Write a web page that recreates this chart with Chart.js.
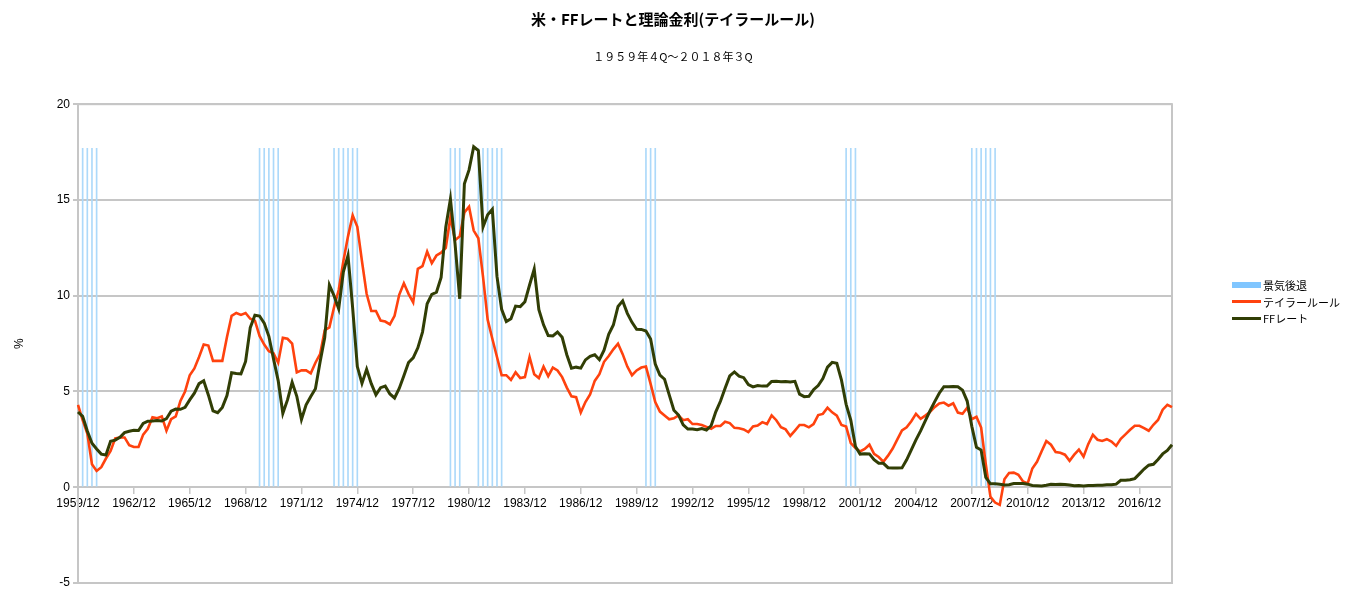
<!DOCTYPE html>
<html lang="ja">
<head>
<meta charset="utf-8"/>
<script src="https://cdn.jsdelivr.net/npm/chart.js@4.4.0/dist/chart.umd.min.js"></script>
<style>
    html, body { margin: 0; padding: 0; background: #fff; }
    #wrap { position: relative; width: 1346px; height: 601px; }
    #legend { position: absolute; left: 1232px; top: 277px; font: 11px "Noto Sans CJK JP", sans-serif; color: #000; }
    #legend div { display: flex; align-items: center; height: 16.5px; white-space: nowrap; }
    #legend span.sw { display: inline-block; width: 29px; margin-right: 2px; }
</style>
</head>
<body>
<div id="wrap">
    <canvas id="chart" width="1346" height="601"></canvas>
    <div id="legend"></div>
</div>
<script>
// quarterly categories, first point labelled 1959/12
const firstYear = 1959;
const firstMonth = 12;
const quarterCount = 236;
const quarters = [];
for (let i = 0; i < quarterCount; i++) {
    const m = firstMonth - 1 + 3 * i;
    quarters.push((firstYear + Math.floor(m / 12)) + "/" + String(m % 12 + 1).padStart(2, "0"));
}

// Taylor rule
const taylorRule = [
    4.3, 3.5, 2.8, 1.2, 0.85, 1.05, 1.5, 1.9, 2.55, 2.6, 2.6, 2.2,
    2.1, 2.1, 2.75, 3.05, 3.65, 3.6, 3.7, 2.95, 3.55, 3.7, 4.5, 5.0,
    5.85, 6.2, 6.8, 7.45, 7.4, 6.6, 6.6, 6.6, 7.85, 8.95, 9.1, 9.0,
    9.1, 8.8, 8.7, 7.9, 7.45, 7.1, 7.0, 6.5, 7.8, 7.75, 7.5, 6.0,
    6.1, 6.1, 5.95, 6.5, 6.95, 8.2, 8.35, 9.4, 10.3, 11.8, 13.1, 14.2,
    13.6, 11.8, 10.1, 9.2, 9.2, 8.7, 8.65, 8.5, 8.95, 10.05, 10.65, 10.1,
    9.65, 11.4, 11.55, 12.3, 11.7, 12.1, 12.25, 12.5, 14.1, 12.9, 13.1, 14.35,
    14.65, 13.4, 13.0, 11.0, 8.75, 7.75, 6.8, 5.85, 5.85, 5.6, 6.0, 5.7,
    5.75, 6.8, 5.9, 5.7, 6.3, 5.8, 6.25, 6.1, 5.75, 5.2, 4.75, 4.7,
    3.9, 4.45, 4.85, 5.55, 5.9, 6.55, 6.85, 7.2, 7.5, 6.95, 6.3, 5.85,
    6.1, 6.25, 6.3, 5.4, 4.45, 3.95, 3.75, 3.55, 3.6, 3.75, 3.5, 3.55,
    3.3, 3.3, 3.25, 3.15, 3.05, 3.2, 3.2, 3.42, 3.35, 3.1, 3.08, 3.02,
    2.88, 3.17, 3.22, 3.4, 3.3, 3.75, 3.5, 3.13, 3.02, 2.68, 2.96, 3.25,
    3.25, 3.13, 3.3, 3.77, 3.83, 4.15, 3.91, 3.74, 3.25, 3.17, 2.3, 2.05,
    1.87, 2.0, 2.22, 1.74, 1.58, 1.33, 1.65, 2.02, 2.5, 2.97, 3.13, 3.45,
    3.83, 3.57, 3.74, 3.93, 4.18, 4.37, 4.42, 4.26, 4.38, 3.9, 3.84, 4.15,
    3.55, 3.68, 3.12, 1.2, -0.5, -0.8, -0.92, 0.42, 0.74, 0.76, 0.65, 0.3,
    0.2, 0.98, 1.33, 1.88, 2.41, 2.22, 1.84, 1.8, 1.7, 1.38, 1.7, 1.97,
    1.6, 2.25, 2.74, 2.48, 2.42, 2.51, 2.38, 2.16, 2.53, 2.76, 3.0, 3.21,
    3.21, 3.09, 2.95, 3.26, 3.51, 4.05, 4.3, 4.18
];

// FF rate
const ffRate = [
    3.93, 3.70, 2.94, 2.30, 2.00, 1.73, 1.68, 2.40, 2.46, 2.61, 2.85, 2.92,
    2.97, 2.96, 3.33, 3.45, 3.46, 3.49, 3.46, 3.58, 3.97, 4.08, 4.07, 4.17,
    4.56, 4.91, 5.41, 5.56, 4.82, 3.99, 3.89, 4.17, 4.79, 5.98, 5.94, 5.92,
    6.57, 8.33, 8.98, 8.94, 8.57, 7.88, 6.70, 5.57, 3.86, 4.56, 5.48, 4.75,
    3.54, 4.30, 4.74, 5.14, 6.54, 7.82, 10.56, 10.00, 9.32, 11.25, 12.09, 9.35,
    6.30, 5.42, 6.16, 5.41, 4.83, 5.20, 5.28, 4.87, 4.66, 5.16, 5.82, 6.51,
    6.76, 7.28, 8.10, 9.58, 10.07, 10.18, 10.95, 13.58, 15.05, 12.69, 9.84, 15.85,
    16.57, 17.78, 17.58, 13.59, 14.23, 14.51, 11.01, 9.29, 8.65, 8.80, 9.46, 9.43,
    9.69, 10.56, 11.39, 9.27, 8.48, 7.92, 7.90, 8.10, 7.83, 6.92, 6.21, 6.27,
    6.22, 6.65, 6.84, 6.92, 6.66, 7.16, 7.98, 8.47, 9.44, 9.73, 9.08, 8.61,
    8.25, 8.24, 8.16, 7.74, 6.43, 5.86, 5.64, 4.82, 4.02, 3.77, 3.26, 3.04,
    3.04, 3.00, 3.06, 2.99, 3.21, 3.94, 4.49, 5.17, 5.81, 6.02, 5.80, 5.72,
    5.36, 5.24, 5.31, 5.28, 5.28, 5.52, 5.53, 5.51, 5.52, 5.50, 5.53, 4.86,
    4.73, 4.75, 5.09, 5.31, 5.68, 6.27, 6.52, 6.47, 5.59, 4.33, 3.50, 2.13,
    1.73, 1.75, 1.74, 1.44, 1.25, 1.25, 1.02, 1.00, 1.00, 1.01, 1.43, 1.95,
    2.47, 2.94, 3.46, 3.98, 4.46, 4.91, 5.25, 5.25, 5.26, 5.25, 5.07, 4.50,
    3.18, 2.09, 1.94, 0.51, 0.18, 0.18, 0.16, 0.12, 0.13, 0.19, 0.19, 0.19,
    0.16, 0.09, 0.08, 0.07, 0.10, 0.15, 0.14, 0.16, 0.14, 0.12, 0.08, 0.09,
    0.07, 0.09, 0.09, 0.10, 0.11, 0.13, 0.13, 0.16, 0.36, 0.37, 0.39, 0.45,
    0.70, 0.95, 1.15, 1.20, 1.45, 1.74, 1.92, 2.22
];

// recession quarters and the height of the recession bars
const recessionQuarters = [
    "1960/03", "1960/06", "1960/09", "1960/12",
    "1969/09", "1969/12", "1970/03", "1970/06", "1970/09",
    "1973/09", "1973/12", "1974/03", "1974/06", "1974/09", "1974/12",
    "1979/12", "1980/03", "1980/06",
    "1981/06", "1981/09", "1981/12", "1982/03", "1982/06", "1982/09",
    "1990/06", "1990/09", "1990/12",
    "2001/03", "2001/06", "2001/09",
    "2007/12", "2008/03", "2008/06", "2008/09", "2008/12", "2009/03"
];
const recessionTop = 17.7;
const recession = quarters.map(q => recessionQuarters.includes(q) ? recessionTop : null);

const jpFont = '"Noto Sans CJK JP", sans-serif';
const numFont = '"Liberation Sans", Arial, sans-serif';
const gridGrey = "#c6c6c6";

// grey frame round the plot area
const frame = {
    id: "frame",
    beforeDatasetsDraw(chart) {
        const a = chart.chartArea, c = chart.ctx;
        c.save();
        c.strokeStyle = gridGrey;
        c.lineWidth = 2;
        c.strokeRect(a.left, a.top, a.right - a.left, a.bottom - a.top);
        c.restore();
    }
};

const colors = { recession: "#acd9fa", taylor: "#ff420e", ff: "#313e05" };

new Chart(document.getElementById("chart"), {
    data: {
        labels: quarters,
        datasets: [
            { type: "line", label: "FFレート", data: ffRate, borderColor: colors.ff, borderWidth: 3,
              pointRadius: 0, tension: 0, order: 0 },
            { type: "line", label: "テイラールール", data: taylorRule, borderColor: colors.taylor, borderWidth: 2.6,
              pointRadius: 0, tension: 0, order: 1 },
            { type: "bar", label: "景気後退", data: recession, backgroundColor: colors.recession,
              barThickness: 1, order: 2 }
        ]
    },
    options: {
        responsive: false,
        animation: false,
        layout: { padding: { left: 0, right: 0, top: 0, bottom: 18 } },
        plugins: {
            legend: { display: false },
            tooltip: { enabled: false },
            title: {
                display: true,
                text: "米・FFレートと理論金利(テイラールール)",
                color: "#000",
                font: { family: jpFont, size: 15, weight: "bold" },
                padding: { top: 10, bottom: 22 }
            },
            subtitle: {
                display: true,
                text: "１９５９年４Q～２０１８年３Q",
                color: "#000",
                font: { family: jpFont, size: 11 },
                padding: { top: 0, bottom: 41 }
            }
        },
        scales: {
            x: {
                type: "category",
                offset: false,
                position: { y: 0 },
                grid: { offset: false, drawOnChartArea: false, drawTicks: true, tickLength: 6, color: gridGrey, lineWidth: 1.5 },
                border: { color: gridGrey, width: 2 },
                ticks: {
                    autoSkip: false,
                    maxRotation: 0,
                    padding: 3,
                    color: "#000",
                    font: { family: numFont, size: 12 },
                    callback: function (v, i) { return i % 12 === 0 ? this.getLabelForValue(v) : null; }
                }
            },
            y: {
                min: -5,
                max: 20,
                ticks: { stepSize: 5, padding: 3, color: "#000", font: { family: numFont, size: 12 } },
                grid: { color: gridGrey, lineWidth: 2, tickLength: 5 },
                border: { color: gridGrey, width: 2 },
                title: { display: true, text: "%", color: "#000", font: { family: numFont, size: 12 }, padding: { top: 12, bottom: 0 } },
                afterFit(s) { s.width = 78; }
            },
            // empty right-hand axis, only keeps room for the legend
            legendRoom: {
                type: "linear",
                axis: "y",
                position: "right",
                display: true,
                ticks: { display: false },
                grid: { drawOnChartArea: false, drawTicks: false },
                border: { display: false },
                afterFit(s) { s.width = 174; }
            }
        }
    },
    plugins: [frame]
});

// legend, placed as in the original
const legendItems = [
    { label: "景気後退", color: colors.recession, h: 6, box: true },
    { label: "テイラールール", color: colors.taylor, h: 3 },
    { label: "FFレート", color: colors.ff, h: 3 }
];
const legend = document.getElementById("legend");
legendItems.forEach(it => {
    const row = document.createElement("div");
    const sw = document.createElement("span");
    sw.className = "sw";
    sw.style.height = it.h + "px";
    sw.style.background = it.box ? "#80c6ff" : it.color;
    row.appendChild(sw);
    row.appendChild(document.createTextNode(it.label));
    legend.appendChild(row);
});
</script>
</body>
</html>
